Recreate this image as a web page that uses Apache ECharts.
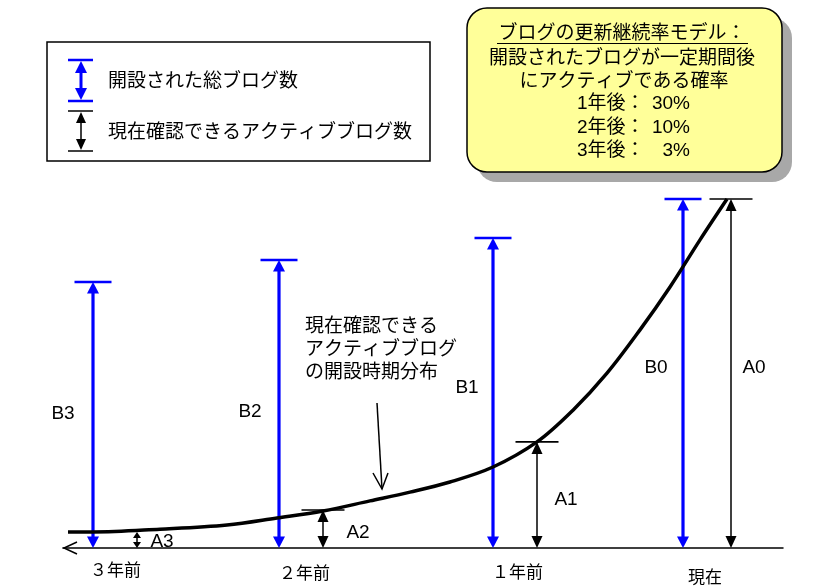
<!DOCTYPE html>
<html>
<head>
<meta charset="utf-8">
<script src="https://cdn.jsdelivr.net/npm/echarts@6/dist/echarts.min.js"></script>
<style>html,body{margin:0;padding:0;background:#fff;}#c{width:821px;height:588px;}</style>
</head>
<body>
<div id="c"></div>
<script>
// ---- data (x: years relative to now, y: relative blog count, A0 = 100) ----
const periodLabels = ['３年前', '２年前', '１年前', '現在'];
const periodX = [-3.205, -2.26, -1.195, -0.215];
const totalLabels = ['B3', 'B2', 'B1', 'B0'];
const totalX = [-3.19, -2.26, -1.19, -0.24];
const totalVal = [76.2, 82.5, 88.8, 100];
const activeLabels = ['A3', 'A2', 'A1', 'A0'];
const activeX = [-2.97, -2.04, -0.97, 0];
const activeVal = [4.6, 10.9, 30.4, 100];
const curveX = [-3.315, -3.19, -2.855, -2.52, -2.27, -2.04, -1.805, -1.605, -1.405, -1.19, -0.97, -0.79, -0.62, -0.455, -0.305, -0.155, -0.02];
const curveY = [4.6, 4.6, 5.4, 6.6, 8.6, 10.6, 13.5, 16.0, 18.9, 23.2, 30.4, 39.5, 50.1, 62.5, 74.8, 88.3, 100];
const legendTexts = ['開設された総ブログ数', '現在確認できるアクティブブログ数'];
const boxTitle = 'ブログの更新継続率モデル：';
const boxLines = ['開設されたブログが一定期間後', 'にアクティブである確率'];
const rateLabels = ['1年後：', '2年後：', '3年後：'];
const rateValues = ['30%', '10%', '3%'];
const noteLines = ['現在確認できる', 'アクティブブログ', 'の開設時期分布'];

// ---- styles ----
const JP = '"Noto Sans CJK JP", sans-serif';
const LAT = '"Liberation Sans", Arial, "Noto Sans CJK JP", sans-serif';
const BLUE = '#0000ff';
const totalLabelOff = [[-30, -1], [-29, 8], [-26, -5], [-27, -5.5]];
const activeLabelOff = [[25, 2], [35, 4], [29, 5], [23, -5.5]];
const periodDy = [22, 25, 24, 29];

function arrowRender(kind) {
  return function (params, api) {
    const i = params.dataIndex;
    const x = api.value(0), v = api.value(1);
    const top = api.coord([x, v]);
    const bot = api.coord([x, 0]);
    const cx = top[0];
    let color, shaftW, headW, headL, capHalf, capW, labels, off, cap = true;
    if (kind === 'B') {
      color = BLUE; shaftW = 3.2; headW = 12; headL = 11.5; capHalf = 18.5; capW = 2.5;
      labels = totalLabels; off = totalLabelOff;
    } else {
      color = '#000'; shaftW = 1.5; headW = 11; headL = 12; capHalf = 21.5; capW = 1.6;
      labels = activeLabels; off = activeLabelOff;
      if (i === 0) { headW = 8; headL = 6; cap = false; }
    }
    const children = [
      { type: 'line', shape: { x1: cx, y1: top[1] + headL - 1, x2: cx, y2: bot[1] - headL + 1 }, style: { stroke: color, lineWidth: shaftW } },
      { type: 'polygon', shape: { points: [[cx, top[1]], [cx - headW / 2, top[1] + headL], [cx + headW / 2, top[1] + headL]] }, style: { fill: color } },
      { type: 'polygon', shape: { points: [[cx, bot[1]], [cx - headW / 2, bot[1] - headL], [cx + headW / 2, bot[1] - headL]] }, style: { fill: color } }
    ];
    if (cap) {
      children.push({ type: 'line', shape: { x1: cx - capHalf, y1: top[1], x2: cx + capHalf, y2: top[1] }, style: { stroke: color, lineWidth: capW } });
    }
    const midY = (top[1] + bot[1]) / 2;
    children.push({
      type: 'text', x: cx + off[i][0], y: midY + off[i][1],
      style: { text: labels[i], fill: '#000', font: '19px ' + LAT, align: 'center', verticalAlign: 'middle', textAlign: 'center', textVerticalAlign: 'middle' }
    });
    return { type: 'group', children: children };
  };
}

function periodRender(params, api) {
  const i = params.dataIndex;
  const p = api.coord([api.value(0), 0]);
  return {
    type: 'text', x: p[0], y: p[1] + periodDy[i],
    style: { text: periodLabels[i], fill: '#000', font: '17px ' + JP, align: 'left', verticalAlign: 'middle', textAlign: 'left', textVerticalAlign: 'middle' }
  };
}

function txt(x, y, text, font, align) {
  return { type: 'text', x: x, y: y, z: 10,
    style: { text: text, fill: '#000', font: font, align: align || 'left', verticalAlign: 'middle', textAlign: align || 'left', textVerticalAlign: 'middle' } };
}
function ln(x1, y1, x2, y2, color, w) {
  return { type: 'line', z: 10, shape: { x1: x1, y1: y1, x2: x2, y2: y2 }, style: { stroke: color, lineWidth: w } };
}
function tri(points, color) {
  return { type: 'polygon', z: 10, shape: { points: points }, style: { fill: color } };
}

const graphics = [
  // legend box
  { type: 'rect', z: 5, shape: { x: 47, y: 42, width: 383, height: 119 }, style: { fill: '#fff', stroke: '#000', lineWidth: 1.5 } },
  ln(68, 60, 93, 60, BLUE, 2.5), ln(68, 101, 93, 101, BLUE, 2.5), ln(81, 70, 81, 91, BLUE, 3),
  tri([[81, 61], [75, 73], [87, 73]], BLUE), tri([[81, 100], [75, 88], [87, 88]], BLUE),
  ln(68, 111, 93, 111, '#000', 1.5), ln(68, 151, 93, 151, '#000', 1.5), ln(81, 120, 81, 142, '#000', 1.5),
  tri([[81, 112], [76, 123], [86, 123]], '#000'), tri([[81, 150], [76, 139], [86, 139]], '#000'),
  txt(108, 80, legendTexts[0], '19px ' + JP),
  txt(108, 131, legendTexts[1], '19px ' + JP),
  // info box
  { type: 'rect', z: 4, shape: { x: 477, y: 18, width: 315, height: 164, r: 20 }, style: { fill: '#a8a8a8' } },
  { type: 'rect', z: 5, shape: { x: 467, y: 8, width: 315, height: 164, r: 20 }, style: { fill: '#ffff99', stroke: '#000', lineWidth: 1.5 } },
  txt(622, 32, boxTitle, '19px ' + JP, 'center'),
  ln(497, 43.5, 748, 43.5, '#000', 1.2),
  txt(622, 57, boxLines[0], '19px ' + JP, 'center'),
  txt(624, 80, boxLines[1], '19px ' + JP, 'center'),
  // annotation
  txt(305, 325, noteLines[0], '19px ' + JP),
  txt(305, 348, noteLines[1], '19px ' + JP),
  txt(305, 371, noteLines[2], '19px ' + JP),
  ln(377, 403, 382, 489, '#000', 1.5),
  { type: 'polyline', z: 10, shape: { points: [[373, 473], [382, 489], [388, 473]] }, style: { stroke: '#000', lineWidth: 1.5, fill: null } },
  // baseline open arrowhead
  { type: 'polyline', z: 10, shape: { points: [[77, 542], [64, 548], [77, 554]] }, style: { stroke: '#000', lineWidth: 1.5, fill: null } }
];
rateLabels.forEach(function (t, i) {
  const y = 104 + i * 23.3;
  graphics.push(txt(577, y, t, '19px ' + LAT));
  graphics.push(txt(690, y, rateValues[i], '19px ' + LAT, 'right'));
});

const chart = echarts.init(document.getElementById('c'), null, { renderer: 'canvas' });
chart.setOption({
  backgroundColor: '#fff',
  animation: false,
  grid: { left: 63, right: 38, top: 164.1, bottom: 40, containLabel: false },
  xAxis: {
    type: 'value', min: -3.34, max: 0.26,
    axisLine: { show: true, onZero: true, lineStyle: { color: '#000', width: 1.5 } },
    axisTick: { show: false }, axisLabel: { show: false }, splitLine: { show: false }
  },
  yAxis: {
    type: 'value', min: 0, max: 110,
    axisLine: { show: false }, axisTick: { show: false }, axisLabel: { show: false }, splitLine: { show: false }
  },
  graphic: graphics,
  series: [
    {
      type: 'line', data: curveX.map(function (x, i) { return [x, curveY[i]]; }),
      smooth: 0.35, symbol: 'none', clip: false, z: 3,
      lineStyle: { color: '#000', width: 3.5 }
    },
    {
      type: 'custom', renderItem: arrowRender('B'), clip: false, z: 2,
      data: totalX.map(function (x, i) { return [x, totalVal[i]]; })
    },
    {
      type: 'custom', renderItem: arrowRender('A'), clip: false, z: 2,
      data: activeX.map(function (x, i) { return [x, activeVal[i]]; })
    },
    {
      type: 'custom', renderItem: periodRender, clip: false, z: 2,
      data: periodX.map(function (x) { return [x, 0]; })
    }
  ]
});
</script>
</body>
</html>
